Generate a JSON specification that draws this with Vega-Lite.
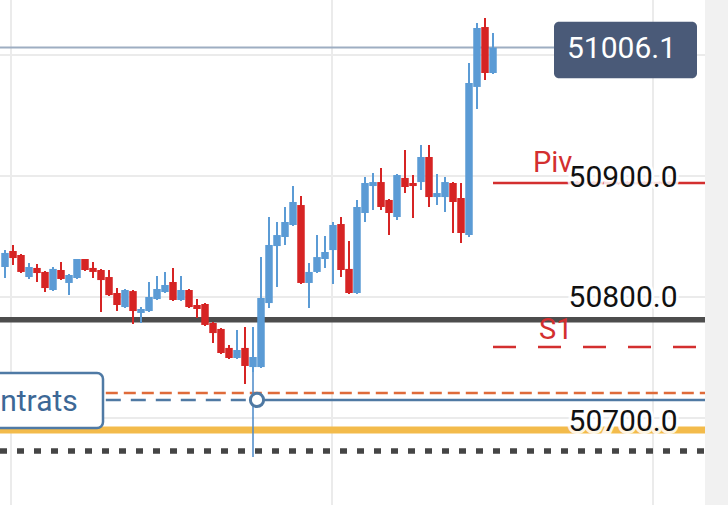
{
  "$schema": "https://vega.github.io/schema/vega-lite/v6.json",
  "width": 728,
  "height": 505,
  "padding": 0,
  "autosize": {"type": "none"},
  "background": "white",
  "config": {"view": {"stroke": null}, "font": "Roboto"},
  "datasets": {
    "candles": [
      {"x": 0, "o": 50824.8, "h": 50838.8, "l": 50815.7, "c": 50836.4},
      {"x": 1, "o": 50838.0, "h": 50843.0, "l": 50826.5, "c": 50832.2},
      {"x": 2, "o": 50834.7, "h": 50835.5, "l": 50819.8, "c": 50820.7},
      {"x": 3, "o": 50816.5, "h": 50828.1, "l": 50814.9, "c": 50824.8},
      {"x": 4, "o": 50824.0, "h": 50827.3, "l": 50812.4, "c": 50819.8},
      {"x": 5, "o": 50820.7, "h": 50821.5, "l": 50804.1, "c": 50807.4},
      {"x": 6, "o": 50805.8, "h": 50824.8, "l": 50804.9, "c": 50823.2},
      {"x": 7, "o": 50822.3, "h": 50828.9, "l": 50814.0, "c": 50814.9},
      {"x": 8, "o": 50811.6, "h": 50819.0, "l": 50801.6, "c": 50818.2},
      {"x": 9, "o": 50815.7, "h": 50831.4, "l": 50814.9, "c": 50831.4},
      {"x": 10, "o": 50831.4, "h": 50831.4, "l": 50821.5, "c": 50822.3},
      {"x": 11, "o": 50824.0, "h": 50828.9, "l": 50815.7, "c": 50820.7},
      {"x": 12, "o": 50822.3, "h": 50823.2, "l": 50787.6, "c": 50814.0},
      {"x": 13, "o": 50816.5, "h": 50822.3, "l": 50800.8, "c": 50801.6},
      {"x": 14, "o": 50803.3, "h": 50807.4, "l": 50788.4, "c": 50793.4},
      {"x": 15, "o": 50791.7, "h": 50806.6, "l": 50790.9, "c": 50805.8},
      {"x": 16, "o": 50804.9, "h": 50805.8, "l": 50777.7, "c": 50788.4},
      {"x": 17, "o": 50786.8, "h": 50791.7, "l": 50778.5, "c": 50790.1},
      {"x": 18, "o": 50788.4, "h": 50812.4, "l": 50787.6, "c": 50800.0},
      {"x": 19, "o": 50798.3, "h": 50817.4, "l": 50797.5, "c": 50806.6},
      {"x": 20, "o": 50804.1, "h": 50820.7, "l": 50803.3, "c": 50809.9},
      {"x": 21, "o": 50812.4, "h": 50824.0, "l": 50796.7, "c": 50797.5},
      {"x": 22, "o": 50797.5, "h": 50817.4, "l": 50796.7, "c": 50805.8},
      {"x": 23, "o": 50805.8, "h": 50806.6, "l": 50790.9, "c": 50791.7},
      {"x": 24, "o": 50793.4, "h": 50798.3, "l": 50782.6, "c": 50790.1},
      {"x": 25, "o": 50794.2, "h": 50795.0, "l": 50776.0, "c": 50776.9},
      {"x": 26, "o": 50778.5, "h": 50779.3, "l": 50762.0, "c": 50770.2},
      {"x": 27, "o": 50773.6, "h": 50774.4, "l": 50752.9, "c": 50753.7},
      {"x": 28, "o": 50757.9, "h": 50760.3, "l": 50748.8, "c": 50749.6},
      {"x": 29, "o": 50749.6, "h": 50772.7, "l": 50748.8, "c": 50756.2},
      {"x": 30, "o": 50757.9, "h": 50775.2, "l": 50728.1, "c": 50743.0},
      {"x": 31, "o": 50742.1, "h": 50775.2, "l": 50738.0, "c": 50750.4},
      {"x": 32, "o": 50742.1, "h": 50833.0, "l": 50741.3, "c": 50799.2},
      {"x": 33, "o": 50795.0, "h": 50866.1, "l": 50790.9, "c": 50843.0},
      {"x": 34, "o": 50842.1, "h": 50862.0, "l": 50808.3, "c": 50851.2},
      {"x": 35, "o": 50849.6, "h": 50874.4, "l": 50843.0, "c": 50862.0},
      {"x": 36, "o": 50859.5, "h": 50891.7, "l": 50858.7, "c": 50878.5},
      {"x": 37, "o": 50876.0, "h": 50883.4, "l": 50810.7, "c": 50811.6},
      {"x": 38, "o": 50811.6, "h": 50828.1, "l": 50790.9, "c": 50820.7},
      {"x": 39, "o": 50820.7, "h": 50851.2, "l": 50819.8, "c": 50833.0},
      {"x": 40, "o": 50831.4, "h": 50850.4, "l": 50824.0, "c": 50837.2},
      {"x": 41, "o": 50838.8, "h": 50862.0, "l": 50810.7, "c": 50859.5},
      {"x": 42, "o": 50860.3, "h": 50866.1, "l": 50816.5, "c": 50822.3},
      {"x": 43, "o": 50823.2, "h": 50846.3, "l": 50802.5, "c": 50803.3},
      {"x": 44, "o": 50803.3, "h": 50880.2, "l": 50802.5, "c": 50874.4},
      {"x": 45, "o": 50869.4, "h": 50899.2, "l": 50862.0, "c": 50894.2},
      {"x": 46, "o": 50891.7, "h": 50902.5, "l": 50871.9, "c": 50895.0},
      {"x": 47, "o": 50895.0, "h": 50906.6, "l": 50871.9, "c": 50874.4},
      {"x": 48, "o": 50880.2, "h": 50881.0, "l": 50851.2, "c": 50869.4},
      {"x": 49, "o": 50866.1, "h": 50901.7, "l": 50863.6, "c": 50900.8},
      {"x": 50, "o": 50898.4, "h": 50921.5, "l": 50885.9, "c": 50890.9},
      {"x": 51, "o": 50894.2, "h": 50900.8, "l": 50865.3, "c": 50891.7},
      {"x": 52, "o": 50895.0, "h": 50925.6, "l": 50888.4, "c": 50915.7},
      {"x": 53, "o": 50915.7, "h": 50925.6, "l": 50874.4, "c": 50882.6},
      {"x": 54, "o": 50882.6, "h": 50901.7, "l": 50876.0, "c": 50885.9},
      {"x": 55, "o": 50882.6, "h": 50899.2, "l": 50870.2, "c": 50895.0},
      {"x": 56, "o": 50894.2, "h": 50895.0, "l": 50852.9, "c": 50878.5},
      {"x": 57, "o": 50881.8, "h": 50894.2, "l": 50844.6, "c": 50852.9},
      {"x": 58, "o": 50851.2, "h": 50993.4, "l": 50849.6, "c": 50976.9},
      {"x": 59, "o": 50973.6, "h": 51026.4, "l": 50955.4, "c": 51022.3},
      {"x": 60, "o": 51023.1, "h": 51030.6, "l": 50979.3, "c": 50985.1},
      {"x": 61, "o": 50985.1, "h": 51018.2, "l": 50984.3, "c": 51006.1}
    ]
  },
  "encoding": {
    "x": {"field": "x", "type": "quantitative", "scale": {"domain": [-0.625, 90.375], "nice": false, "zero": false, "padding": 0}, "axis": null},
    "y": {"field": "y", "type": "quantitative", "scale": {"domain": [50628.1, 51045.45], "nice": false, "zero": false}, "axis": null}
  },
  "layer": [
    {
      "data": {"values": [
        {"x": 0.75, "y": 50628.1, "y2": 51045.45},
        {"x": 40.875, "y": 50628.1, "y2": 51045.45},
        {"x": 81, "y": 50628.1, "y2": 51045.45}
      ]},
      "mark": {"type": "rule", "color": "#ebebeb", "strokeWidth": 2},
      "encoding": {"y2": {"field": "y2"}}
    },
    {
      "data": {"values": [
        {"y": 51000, "x": -0.625, "x2": 90.375},
        {"y": 50900, "x": -0.625, "x2": 90.375},
        {"y": 50800, "x": -0.625, "x2": 90.375},
        {"y": 50700, "x": -0.625, "x2": 90.375}
      ]},
      "mark": {"type": "rule", "color": "#ebebeb", "strokeWidth": 2},
      "encoding": {"x2": {"field": "x2"}}
    },
    {
      "data": {"values": [{"x": -0.625, "x2": 68.625, "y": 51006.1}]},
      "mark": {"type": "rule", "color": "#9eaec2", "strokeWidth": 2},
      "encoding": {"x2": {"field": "x2"}}
    },
    {
      "data": {"values": [{"x": -0.625, "x2": 87.5, "y": 50781.2}]},
      "mark": {"type": "rule", "color": "#4d4d4d", "strokeWidth": 5.5},
      "encoding": {"x2": {"field": "x2"}}
    },
    {
      "data": {"values": [{"x": -0.625, "x2": 87.5, "y": 50690.1}]},
      "mark": {"type": "rule", "color": "#f3bb4b", "strokeWidth": 7},
      "encoding": {"x2": {"field": "x2"}}
    },
    {
      "data": {"values": [{"x": -0.625, "x2": 87.5, "y": 50672.7}]},
      "mark": {"type": "rule", "color": "#454545", "strokeWidth": 5.5, "strokeDash": [7, 10]},
      "encoding": {"x2": {"field": "x2"}}
    },
    {
      "data": {"values": [{"x": 12.6, "x2": 87.5, "y": 50720.7}]},
      "mark": {"type": "rule", "color": "#df6b3a", "strokeWidth": 2.5, "strokeDash": [12, 6]},
      "encoding": {"x2": {"field": "x2"}}
    },
    {
      "data": {"values": [{"x": 12.6, "x2": 31.5, "y": 50714.9}]},
      "mark": {"type": "rule", "color": "#4f79a3", "strokeWidth": 2.5, "strokeDash": [15, 10]},
      "encoding": {"x2": {"field": "x2"}}
    },
    {
      "data": {"values": [{"x": 31.5, "x2": 87.5, "y": 50714.9}]},
      "mark": {"type": "rule", "color": "#4f79a3", "strokeWidth": 2.5},
      "encoding": {"x2": {"field": "x2"}}
    },
    {
      "data": {"values": [{"x": 31, "y": 50667.8, "y2": 50742.1}]},
      "mark": {"type": "rule", "color": "#4a88c9", "strokeWidth": 1.5},
      "encoding": {"y2": {"field": "y2"}}
    },
    {
      "data": {"values": [{"x": 61, "x2": 87.5, "y": 50894.2}]},
      "mark": {"type": "rule", "color": "#d32f2f", "strokeWidth": 2.5},
      "encoding": {"x2": {"field": "x2"}}
    },
    {
      "data": {"values": [{"x": 61, "x2": 87.5, "y": 50758.7}]},
      "mark": {"type": "rule", "color": "#d32f2f", "strokeWidth": 2.5, "strokeDash": [23, 22]},
      "encoding": {"x2": {"field": "x2"}}
    },
    {
      "data": {"name": "candles"},
      "mark": {"type": "rule", "strokeWidth": 2},
      "encoding": {
        "y": {"field": "l", "type": "quantitative", "scale": {"domain": [50628.1, 51045.45], "nice": false, "zero": false}, "axis": null},
        "y2": {"field": "h"},
        "color": {"condition": {"test": "datum.c >= datum.o", "value": "#5b9bd5"}, "value": "#d62424"}
      }
    },
    {
      "data": {"name": "candles"},
      "mark": {"type": "bar", "size": 7.5},
      "encoding": {
        "y": {"field": "o", "type": "quantitative", "scale": {"domain": [50628.1, 51045.45], "nice": false, "zero": false}, "axis": null},
        "y2": {"field": "c"},
        "color": {"condition": {"test": "datum.c >= datum.o", "value": "#5b9bd5"}, "value": "#d62424"}
      }
    },
    {
      "data": {"values": [{"x": 31.5, "y": 50714.9}]},
      "mark": {"type": "point", "shape": "circle", "filled": false, "fill": "white", "fillOpacity": 1, "stroke": "#4f79a3", "strokeWidth": 3, "size": 175, "opacity": 1}
    },
    {
      "data": {"values": [{"x": 87.5, "x2": 91, "y": 50628.1, "y2": 51045.45}]},
      "mark": {"type": "rect", "color": "#f1f1f1"},
      "encoding": {"x2": {"field": "x2"}, "y2": {"field": "y2"}}
    },
    {
      "data": {"values": [{"x": 68.625, "x2": 86.5, "y": 51027.5, "y2": 50980.7}]},
      "mark": {"type": "rect", "color": "#4a5a78", "cornerRadius": 5},
      "encoding": {"x2": {"field": "x2"}, "y2": {"field": "y2"}}
    },
    {
      "data": {"values": [{"x": 77.06, "y": 51004.8, "t": "51006.1"}]},
      "mark": {"type": "text", "color": "white", "fontSize": 30, "align": "center", "baseline": "middle"},
      "encoding": {"text": {"field": "t"}}
    },
    {
      "data": {"values": [{"x": -1.5, "x2": 12.25, "y": 50737.2, "y2": 50691.7}]},
      "mark": {"type": "rect", "fill": "white", "stroke": "#4f7aa5", "strokeWidth": 2.5, "cornerRadius": 6},
      "encoding": {"x2": {"field": "x2"}, "y2": {"field": "y2"}}
    },
    {
      "data": {"values": [{"x": -0.6, "y": 50713.2, "t": "ntrats"}]},
      "mark": {"type": "text", "color": "#3d6896", "fontSize": 30, "align": "left", "baseline": "middle"},
      "encoding": {"text": {"field": "t"}}
    },
    {
      "data": {"values": [{"x": 66, "y": 50911.1, "t": "Piv"}, {"x": 66.75, "y": 50772.7, "t": "S1"}]},
      "mark": {"type": "text", "color": "#d32f2f", "fontSize": 29, "align": "left", "baseline": "middle"},
      "encoding": {"text": {"field": "t"}}
    },
    {
      "data": {"values": [
        {"x": 70.44, "y": 50898.2, "t": "50900.0"},
        {"x": 70.44, "y": 50799.2, "t": "50800.0"},
        {"x": 70.44, "y": 50696.7, "t": "50700.0"}
      ]},
      "mark": {"type": "text", "color": "white", "stroke": "white", "strokeWidth": 6, "strokeOpacity": 0.85, "fontSize": 30, "align": "left", "baseline": "middle"},
      "encoding": {"text": {"field": "t"}}
    },
    {
      "data": {"values": [
        {"x": 70.44, "y": 50898.2, "t": "50900.0"},
        {"x": 70.44, "y": 50799.2, "t": "50800.0"},
        {"x": 70.44, "y": 50696.7, "t": "50700.0"}
      ]},
      "mark": {"type": "text", "color": "#111111", "fontSize": 30, "align": "left", "baseline": "middle"},
      "encoding": {"text": {"field": "t"}}
    }
  ]
}
